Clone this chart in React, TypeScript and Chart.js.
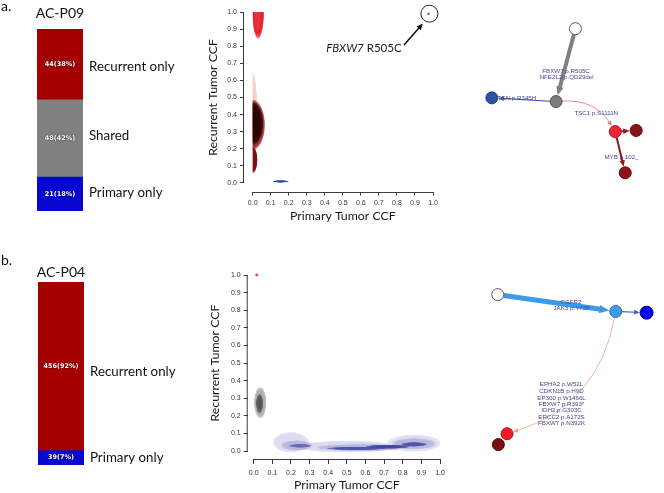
import React, { useEffect, useRef } from 'react';
import { Chart, registerables } from 'chart.js';

Chart.register(...registerables);

const SANS = 'Lato, "Open Sans", sans-serif';
const ARIAL = '"Liberation Sans", Arial, sans-serif';
const AXIS_COLOR = '#3a3a3a';

// ---------- stacked bars ----------
const barCategoriesA = ['Primary only', 'Shared', 'Recurrent only'];
const barCountsA = [21, 48, 44];
const barPercentA = [18, 42, 38];
const barColorsA = ['#0707d0', '#808080', '#a40000'];

const barCategoriesB = ['Primary only', 'Recurrent only'];
const barCountsB = [39, 456];
const barPercentB = [7, 92];
const barColorsB = ['#0707d0', '#a40000'];

// ---------- CCF density plots ----------
const ccfTickValues = [0, 0.1, 0.2, 0.3, 0.4, 0.5, 0.6, 0.7, 0.8, 0.9, 1.0];

type Blob = { x: number; y: number; sx: number; sy: number; color: string; alpha: number; hard: number };

const densityA: Blob[] = [
  { x: 0.0, y: 0.45, sx: 0.025, sy: 0.2, color: '#d04050', alpha: 0.3, hard: 0.3 },
  { x: 0.03, y: 1.0, sx: 0.034, sy: 0.16, color: '#e3202b', alpha: 1, hard: 0.8 },
  { x: 0.028, y: 0.98, sx: 0.02, sy: 0.1, color: '#f04050', alpha: 0.5, hard: 0.3 },
  { x: 0.0, y: 0.34, sx: 0.07, sy: 0.15, color: '#8a1015', alpha: 1, hard: 0.75 },
  { x: 0.0, y: 0.35, sx: 0.06, sy: 0.125, color: '#2a0404', alpha: 1, hard: 0.7 },
  { x: 0.0, y: 0.135, sx: 0.028, sy: 0.08, color: '#7e0c14', alpha: 1, hard: 0.8 },
  { x: 0.155, y: 0.009, sx: 0.046, sy: 0.008, color: '#3553a6', alpha: 1, hard: 0.8 },
];
const annotCircleA = [{ x: 0.98, y: 0.99 }];
const annotDotA = [{ x: 0.975, y: 0.99 }];
const annotTextPosA = { x: 0.826, y: 0.79 };
const annotArrowFromA = { x: 0.839, y: 0.807 };
const annotArrowToA = { x: 0.944, y: 0.933 };

const densityB: Blob[] = [
  { x: 0.035, y: 0.275, sx: 0.034, sy: 0.09, color: '#b0b0b0', alpha: 1, hard: 0.75 },
  { x: 0.032, y: 0.27, sx: 0.02, sy: 0.055, color: '#505050', alpha: 0.95, hard: 0.5 },
  { x: 0.2, y: 0.05, sx: 0.1, sy: 0.06, color: '#dcdcf0', alpha: 1, hard: 0.75 },
  { x: 0.5, y: 0.025, sx: 0.28, sy: 0.035, color: '#dcdcf0', alpha: 1, hard: 0.75 },
  { x: 0.86, y: 0.045, sx: 0.15, sy: 0.05, color: '#dcdcf0', alpha: 1, hard: 0.75 },
  { x: 0.23, y: 0.032, sx: 0.085, sy: 0.03, color: '#b6b6de', alpha: 1, hard: 0.7 },
  { x: 0.58, y: 0.02, sx: 0.25, sy: 0.02, color: '#b6b6de', alpha: 1, hard: 0.7 },
  { x: 0.86, y: 0.042, sx: 0.12, sy: 0.032, color: '#b6b6de', alpha: 1, hard: 0.7 },
  { x: 0.25, y: 0.03, sx: 0.06, sy: 0.011, color: '#6868b4', alpha: 1, hard: 0.6 },
  { x: 0.55, y: 0.015, sx: 0.16, sy: 0.01, color: '#5252a8', alpha: 1, hard: 0.6 },
  { x: 0.72, y: 0.025, sx: 0.12, sy: 0.012, color: '#4848a4', alpha: 1, hard: 0.6 },
  { x: 0.86, y: 0.038, sx: 0.07, sy: 0.013, color: '#5252a8', alpha: 1, hard: 0.6 },
];
const dotB = [{ x: 0.016, y: 1.0 }];

// ---------- phylogenetic trees ----------
const treeNodeXA = [126.7, 106, 37.3, 169.3, 191.7, 180];
const treeNodeYA = [23.3, 101.7, 97.7, 134, 132.7, 178.3];
const treeNodeColorA = ['#ffffff', '#7b7b7b', '#2b52a6', '#ec2530', '#8e121a', '#8e121a'];
const treeNodeBorderA = ['#555555', '#555555', '#1a3a80', '#b01010', '#5a0a0a', '#5a0a0a'];
const treeEdgeFromA = [0, 1, 1, 3, 3];
const treeEdgeToA = [1, 2, 3, 4, 5];
const treeEdgeColorA = ['#808080', '#3b55a8', '#f07070', '#9a1a1a', '#8b1a1a'];
const treeEdgeWidthA = [4, 1.2, 0.8, 2, 2];
const treeEdgeBendA = [0, 0, 0.3, 0, 0];
const treeLabelA = ['FBXW7 p.R505C', 'NFE2L2 p.QD29del', 'PTEN p.R345H', 'TSC1 p.S1111N', 'MYB p.102_'];
const treeLabelXA = [116.7, 117.3, 62, 149, 176];
const treeLabelYA = [69.3, 75.7, 98.5, 114.3, 161.3];

const treeNodeXB = [32.7, 160, 193.3, 42.7, 33.3];
const treeNodeYB = [29, 47, 48.3, 177.7, 189.3];
const treeNodeColorB = ['#ffffff', '#3d9be9', '#0505ee', '#ee1c24', '#7d0c10'];
const treeNodeBorderB = ['#555555', '#2a70b0', '#000090', '#b01010', '#4a0606'];
const treeEdgeFromB = [0, 1, 1];
const treeEdgeToB = [1, 2, 3];
const treeEdgeColorB = ['#3d9ae8', '#4060c8', '#f09a9a'];
const treeEdgeWidthB = [5, 1.2, 0.8];
const treeEdgeBendB = [0, 0, 0.3];
const treeLabelB = ['FGFR2', 'JAK3 p.Y73F', 'EPHA2 p.W52L', 'CDKN1B p.H9D', 'EP300 p.W1466L', 'FBXW7 p.R393*', 'IDH2 p.G303C', 'ERCC2 p.A172S', 'FBXW7 p.N392K'];
const treeLabelXB = [112, 112.5, 101.5, 101.5, 101.5, 101.5, 101.5, 101.5, 101.5];
const treeLabelYB = [36.7, 44, 125, 132.7, 139.3, 146, 152.7, 160, 166.7];

function rgba(hex: string, a: number) {
  const n = parseInt(hex.slice(1), 16);
  return `rgba(${(n >> 16) & 255},${(n >> 8) & 255},${n & 255},${a})`;
}

function arrowHead(ctx: CanvasRenderingContext2D, tx: number, ty: number, ang: number, len: number, wid: number, color: string) {
  const c = Math.cos(ang), s = Math.sin(ang);
  ctx.save();
  ctx.fillStyle = color;
  ctx.beginPath();
  ctx.moveTo(tx, ty);
  ctx.lineTo(tx - len * c + (wid / 2) * s, ty - len * s - (wid / 2) * c);
  ctx.lineTo(tx - len * c - (wid / 2) * s, ty - len * s + (wid / 2) * c);
  ctx.closePath();
  ctx.fill();
  ctx.restore();
}

// ---------- bar config ----------
function barConfig(p: {
  categories: string[]; counts: number[]; percents: number[]; colors: string[];
  padding: any; title: string; titleY: number; letter: string; letterY: number; labelOffsets: number[];
}): any {
  const total = p.counts.reduce((a, b) => a + b, 0);
  const plugin = {
    id: 'barLabels',
    afterDatasetsDraw(chart: any) {
      const { ctx, chartArea } = chart;
      ctx.save();
      p.categories.forEach((cat, i) => {
        const el = chart.getDatasetMeta(i).data[0];
        const cy = (el.y + el.base) / 2;
        ctx.font = `bold 6.5px "DejaVu Sans", sans-serif`;
        ctx.fillStyle = '#ffffff';
        ctx.textAlign = 'center';
        ctx.textBaseline = 'middle';
        ctx.shadowColor = 'rgba(0,0,0,0.9)';
        ctx.shadowBlur = 1.5;
        ctx.fillText(`${p.counts[i]}(${p.percents[i]}%)`, el.x, cy);
        ctx.shadowBlur = 0;
        ctx.shadowColor = 'transparent';
        ctx.font = `13.3px ${SANS}`;
        ctx.fillStyle = '#111111';
        ctx.textAlign = 'left';
        ctx.fillText(cat, chartArea.right + 6, cy + p.labelOffsets[i]);
      });
      ctx.textBaseline = 'alphabetic';
      ctx.fillStyle = '#111111';
      ctx.font = `14px ${SANS}`;
      ctx.textAlign = 'center';
      ctx.fillText(p.title, (chartArea.left + chartArea.right) / 2, p.titleY);
      ctx.font = `14px ${SANS}`;
      ctx.textAlign = 'left';
      ctx.fillText(p.letter, 1, p.letterY);
      ctx.restore();
    },
  };
  return {
    type: 'bar',
    data: {
      labels: [p.title],
      datasets: p.categories.map((c, i) => ({
        label: c,
        data: [p.counts[i]],
        backgroundColor: p.colors[i],
        borderWidth: 0,
        barPercentage: 1,
        categoryPercentage: 1,
      })),
    },
    options: {
      responsive: false,
      animation: false,
      layout: { padding: p.padding },
      plugins: { legend: { display: false }, tooltip: { enabled: false }, title: { display: false } },
      scales: {
        x: { display: false, stacked: true },
        y: { display: false, stacked: true, min: 0, max: total },
      },
    },
    plugins: [plugin],
  };
}

// ---------- CCF config ----------
function ccfConfig(p: {
  xMin: number; yMin: number; yAxisWidth: number; xAxisHeight: number; padTop: number; padRight: number;
  tickLength: number; tickPadding: number; blobs: Blob[]; clipX0: number | null; datasets: any[];
  xTitleY: number; yTitleX: number; annotate: boolean;
}): any {
  const plugin = {
    id: 'ccfDraw',
    beforeDatasetsDraw(chart: any) {
      const { ctx, chartArea } = chart;
      const xs = chart.scales.x, ys = chart.scales.y;
      ctx.save();
      const left = p.clipX0 === null ? chartArea.left : xs.getPixelForValue(p.clipX0);
      ctx.beginPath();
      ctx.rect(left, chartArea.top, chartArea.right - left, chartArea.bottom - chartArea.top);
      ctx.clip();
      for (const b of p.blobs) {
        const px = xs.getPixelForValue(b.x), py = ys.getPixelForValue(b.y);
        const rx = Math.abs(xs.getPixelForValue(b.x + b.sx) - px);
        const ry = Math.abs(ys.getPixelForValue(b.y + b.sy) - py);
        ctx.save();
        ctx.translate(px, py);
        ctx.scale(rx, ry);
        const g = ctx.createRadialGradient(0, 0, 0, 0, 0, 1);
        g.addColorStop(0, rgba(b.color, b.alpha));
        g.addColorStop(b.hard, rgba(b.color, b.alpha));
        g.addColorStop(Math.max(b.hard, 0.92), rgba(b.color, b.alpha * 0.7));
        g.addColorStop(1, rgba(b.color, 0));
        ctx.fillStyle = g;
        ctx.beginPath();
        ctx.arc(0, 0, 1, 0, Math.PI * 2);
        ctx.fill();
        ctx.restore();
      }
      ctx.restore();
    },
    afterDraw(chart: any) {
      const { ctx, chartArea } = chart;
      const xs = chart.scales.x, ys = chart.scales.y;
      ctx.save();
      ctx.strokeStyle = AXIS_COLOR;
      ctx.lineWidth = 1;
      ctx.beginPath();
      ctx.moveTo(xs.getPixelForValue(0), chartArea.bottom + 0.5);
      ctx.lineTo(xs.getPixelForValue(1), chartArea.bottom + 0.5);
      ctx.moveTo(chartArea.left - 0.5, ys.getPixelForValue(0));
      ctx.lineTo(chartArea.left - 0.5, ys.getPixelForValue(1));
      ctx.stroke();
      ctx.fillStyle = '#1a1a1a';
      ctx.font = `12.3px ${SANS}`;
      ctx.textAlign = 'center';
      ctx.textBaseline = 'middle';
      ctx.fillText('Primary Tumor CCF', xs.getPixelForValue(0.5), p.xTitleY);
      ctx.save();
      ctx.translate(p.yTitleX, ys.getPixelForValue(0.5));
      ctx.rotate(-Math.PI / 2);
      ctx.fillText('Recurrent Tumor CCF', 0, 0);
      ctx.restore();
      if (p.annotate) {
        const tx = xs.getPixelForValue(annotTextPosA.x), ty = ys.getPixelForValue(annotTextPosA.y);
        ctx.textAlign = 'left';
        ctx.font = `11.5px ${SANS}`;
        const w2 = ctx.measureText(' R505C').width;
        ctx.font = `italic 11.5px ${SANS}`;
        const w1 = ctx.measureText('FBXW7').width;
        ctx.fillText('FBXW7', tx - w1 - w2, ty);
        ctx.font = `11.5px ${SANS}`;
        ctx.fillText(' R505C', tx - w2, ty);
        const x0 = xs.getPixelForValue(annotArrowFromA.x), y0 = ys.getPixelForValue(annotArrowFromA.y);
        const x1 = xs.getPixelForValue(annotArrowToA.x), y1 = ys.getPixelForValue(annotArrowToA.y);
        const ang = Math.atan2(y1 - y0, x1 - x0);
        ctx.strokeStyle = '#111';
        ctx.lineWidth = 1.6;
        ctx.beginPath();
        ctx.moveTo(x0, y0);
        ctx.lineTo(x1 - 5 * Math.cos(ang), y1 - 5 * Math.sin(ang));
        ctx.stroke();
        arrowHead(ctx, x1, y1, ang, 6.5, 5.5, '#111');
      }
      ctx.restore();
    },
  };
  const tickFont = { size: 7, family: ARIAL };
  return {
    type: 'scatter',
    data: { datasets: p.datasets },
    options: {
      responsive: false,
      animation: false,
      layout: { padding: { top: p.padTop, right: p.padRight, left: 0, bottom: 0 } },
      plugins: { legend: { display: false }, tooltip: { enabled: false } },
      scales: {
        x: {
          type: 'linear', min: p.xMin, max: 1,
          afterBuildTicks: (s: any) => { s.ticks = ccfTickValues.map((v) => ({ value: v })); },
          afterFit: (s: any) => { s.height = p.xAxisHeight; },
          grid: { drawOnChartArea: false, drawTicks: true, tickLength: p.tickLength, color: AXIS_COLOR },
          border: { display: false },
          ticks: { font: tickFont, color: '#333', padding: p.tickPadding, maxRotation: 0, autoSkip: false, callback: (v: any) => Number(v).toFixed(1) },
        },
        y: {
          type: 'linear', min: p.yMin, max: 1,
          afterBuildTicks: (s: any) => { s.ticks = ccfTickValues.map((v) => ({ value: v })); },
          afterFit: (s: any) => { s.width = p.yAxisWidth; },
          grid: { drawOnChartArea: false, drawTicks: true, tickLength: 4, color: AXIS_COLOR },
          border: { display: false },
          ticks: { font: tickFont, color: '#333', padding: 3, autoSkip: false, callback: (v: any) => Number(v).toFixed(1) },
        },
      },
    },
    plugins: [plugin],
  };
}

// ---------- tree config ----------
function treeConfig(p: {
  w: number; h: number; nx: number[]; ny: number[]; fill: string[]; border: string[]; radius: number[];
  from: number[]; to: number[]; ecolor: string[]; ewidth: number[]; bend: number[];
  labels: string[]; lx: number[]; ly: number[];
}): any {
  const plugin = {
    id: 'treeDraw',
    beforeDatasetsDraw(chart: any) {
      const { ctx } = chart;
      const xs = chart.scales.x, ys = chart.scales.y;
      ctx.save();
      p.from.forEach((f, i) => {
        const t = p.to[i];
        const x0 = xs.getPixelForValue(p.nx[f]), y0 = ys.getPixelForValue(p.ny[f]);
        const x1 = xs.getPixelForValue(p.nx[t]), y1 = ys.getPixelForValue(p.ny[t]);
        const dx = x1 - x0, dy = y1 - y0;
        let cx = (x0 + x1) / 2, cy = (y0 + y1) / 2;
        if (p.bend[i]) { cx += p.bend[i] * dy; cy += p.bend[i] * -dx; }
        const ang = Math.atan2(y1 - cy, x1 - cx);
        const sang = Math.atan2(cy - y0, cx - x0);
        const r1 = p.radius[t] + 0.5, r0 = p.radius[f];
        const tipX = x1 - r1 * Math.cos(ang), tipY = y1 - r1 * Math.sin(ang);
        const w = p.ewidth[i];
        const hl = 4 + w * 1.2, hw = 3.5 + w * 1.0;
        const ex = tipX - hl * 0.7 * Math.cos(ang), ey = tipY - hl * 0.7 * Math.sin(ang);
        ctx.strokeStyle = p.ecolor[i];
        ctx.lineWidth = w;
        ctx.beginPath();
        ctx.moveTo(x0 + r0 * Math.cos(sang), y0 + r0 * Math.sin(sang));
        if (p.bend[i]) ctx.quadraticCurveTo(cx, cy, ex, ey);
        else ctx.lineTo(ex, ey);
        ctx.stroke();
        arrowHead(ctx, tipX, tipY, ang, hl, hw, p.ecolor[i]);
      });
      ctx.fillStyle = '#46468c';
      ctx.font = `6.2px ${ARIAL}`;
      ctx.textAlign = 'center';
      ctx.textBaseline = 'middle';
      p.labels.forEach((l, i) => {
        ctx.fillText(l, xs.getPixelForValue(p.lx[i]), ys.getPixelForValue(p.ly[i]));
      });
      ctx.restore();
    },
  };
  return {
    type: 'scatter',
    data: {
      datasets: [{
        data: p.nx.map((x, i) => ({ x, y: p.ny[i] })),
        pointRadius: p.radius,
        pointBackgroundColor: p.fill,
        pointBorderColor: p.border,
        pointBorderWidth: 1,
        clip: false,
      }],
    },
    options: {
      responsive: false,
      animation: false,
      layout: { padding: 0 },
      plugins: { legend: { display: false }, tooltip: { enabled: false } },
      scales: {
        x: { display: false, min: 0, max: p.w },
        y: { display: false, min: 0, max: p.h, reverse: true },
      },
    },
    plugins: [plugin],
  };
}

function ChartBox({ left, top, width, height, make }: { left: number; top: number; width: number; height: number; make: () => any }) {
  const ref = useRef<HTMLCanvasElement>(null);
  useEffect(() => {
    const chart = new Chart(ref.current as HTMLCanvasElement, make());
    return () => chart.destroy();
  }, []);
  return (
    <canvas ref={ref} width={width} height={height}
      style={{ position: 'absolute', left, top, width, height, display: 'block' }} />
  );
}

export default function App() {
  return (
    <div style={{ position: 'fixed', left: 0, top: 0, width: 664, height: 493, background: '#ffffff', overflow: 'hidden' }}>
      <ChartBox left={0} top={0} width={190} height={230} make={() => barConfig({
        categories: barCategoriesA, counts: barCountsA, percents: barPercentA, colors: barColorsA,
        padding: { left: 37, right: 107, top: 29, bottom: 19 }, title: 'AC-P09', titleY: 18, letter: 'a.', letterY: 11,
        labelOffsets: [-1, -3, 2],
      })} />
      <ChartBox left={0} top={240} width={190} height={250} make={() => barConfig({
        categories: barCategoriesB, counts: barCountsB, percents: barPercentB, colors: barColorsB,
        padding: { left: 38, right: 106, top: 42, bottom: 25 }, title: 'AC-P04', titleY: 37, letter: 'b.', letterY: 25,
        labelOffsets: [0, 5],
      })} />
      <ChartBox left={190} top={0} width={260} height={225} make={() => ccfConfig({
        xMin: -0.048, yMin: -0.053, yAxisWidth: 54, xAxisHeight: 33, padTop: 12, padRight: 17,
        tickLength: 3.5, tickPadding: 3, blobs: densityA, clipX0: 0,
        datasets: [
          { data: annotDotA, pointRadius: 1.3, pointBackgroundColor: '#777', pointBorderWidth: 0, clip: false },
          { data: annotCircleA, pointRadius: 8.5, pointBackgroundColor: 'rgba(0,0,0,0)', pointBorderColor: '#222', pointBorderWidth: 1, clip: false },
        ],
        xTitleY: 216, yTitleX: 22.7, annotate: true,
      })} />
      <ChartBox left={190} top={250} width={280} height={243} make={() => ccfConfig({
        xMin: -0.032, yMin: -0.045, yAxisWidth: 57.7, xAxisHeight: 34, padTop: 25, padRight: 30,
        tickLength: 5, tickPadding: 5, blobs: densityB, clipX0: null,
        datasets: [
          { data: dotB, pointRadius: 1.4, pointBackgroundColor: '#e04060', pointBorderWidth: 0, clip: false },
        ],
        xTitleY: 235.3, yTitleX: 25, annotate: false,
      })} />
      <ChartBox left={450} top={0} width={214} height={200} make={() => treeConfig({
        w: 214, h: 200, nx: treeNodeXA, ny: treeNodeYA, fill: treeNodeColorA, border: treeNodeBorderA,
        radius: [6, 6, 6, 6, 6, 6],
        from: treeEdgeFromA, to: treeEdgeToA, ecolor: treeEdgeColorA, ewidth: treeEdgeWidthA, bend: treeEdgeBendA,
        labels: treeLabelA, lx: treeLabelXA, ly: treeLabelYA,
      })} />
      <ChartBox left={460} top={260} width={204} height={233} make={() => treeConfig({
        w: 204, h: 233, nx: treeNodeXB, ny: treeNodeYB, fill: treeNodeColorB, border: treeNodeBorderB,
        radius: [6, 6, 6.5, 6, 6],
        from: treeEdgeFromB, to: treeEdgeToB, ecolor: treeEdgeColorB, ewidth: treeEdgeWidthB, bend: treeEdgeBendB,
        labels: treeLabelB, lx: treeLabelXB, ly: treeLabelYB,
      })} />
    </div>
  );
}
